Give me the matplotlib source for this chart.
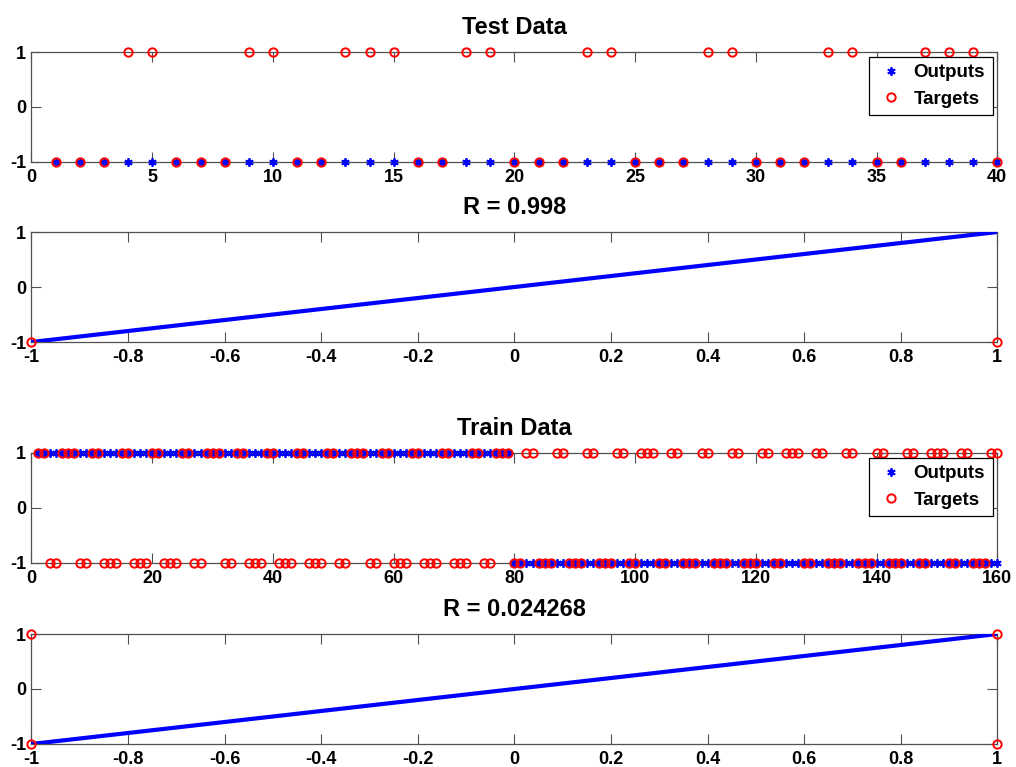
import numpy as np
import matplotlib
matplotlib.use("Agg")
import matplotlib.pyplot as plt
from matplotlib.ticker import FormatStrFormatter, FixedLocator

plt.rcParams["font.family"] = ["Liberation Sans", "DejaVu Sans"]
plt.rcParams["font.weight"] = "bold"

# ---- test data (40 samples) ----
test_idx = np.arange(1, 41)
test_outputs = [-1] * 40
test_pos = [4, 5, 9, 10, 13, 14, 15, 18, 19, 23, 24, 28, 29, 33, 34, 37, 38, 39]
test_targets = [1 if i in test_pos else -1 for i in test_idx]

# ---- train data (160 samples) ----
train_idx = np.arange(1, 161)
train_outputs = [1 if i <= 79 else -1 for i in train_idx]
train_neg_lo = [3, 4, 8, 9, 12, 13, 14, 17, 18, 19, 22, 23, 24, 27, 28, 32, 33,
                36, 37, 38, 41, 42, 43, 46, 47, 48, 51, 52, 56, 57, 60, 61, 62,
                65, 66, 67, 70, 71, 72, 75, 76]
train_pos_hi = [82, 83, 87, 88, 92, 93, 97, 98, 101, 102, 103, 106, 107, 111,
                112, 116, 117, 121, 122, 125, 126, 127, 130, 131, 135, 136, 140,
                141, 145, 146, 149, 150, 151, 154, 155, 159, 160]
train_targets = []
for i in train_idx:
    if i <= 79:
        train_targets.append(-1 if i in train_neg_lo else 1)
    else:
        train_targets.append(1 if i in train_pos_hi else -1)

# ---- regression panels ----
test_reg_x = [-1, 1]
test_reg_y = [-1, -1]
test_fit_x = [-1, 1]
test_fit_y = [-1, 1]
test_R = "R = 0.998"

train_reg_x = [-1, -1, 1, 1]
train_reg_y = [1, -1, 1, -1]
train_fit_x = [-1, 1]
train_fit_y = [-1, 1]
train_R = "R = 0.024268"

AX_COLOR = "#505050"
TICK_FS = 13


def style_axes(ax, xlim, xticks):
    ax.set_xlim(*xlim)
    ax.set_ylim(-1, 1)
    ax.xaxis.set_major_locator(FixedLocator(xticks))
    ax.yaxis.set_major_locator(FixedLocator([-1, 0, 1]))
    ax.xaxis.set_major_formatter(FormatStrFormatter("%g"))
    ax.yaxis.set_major_formatter(FormatStrFormatter("%g"))
    ax.tick_params(direction="in", top=True, right=True, length=7,
                   width=0.8, color=AX_COLOR, labelsize=TICK_FS, pad=4)
    ax.tick_params(axis="x", pad=5)
    for lab in ax.get_xticklabels() + ax.get_yticklabels():
        lab.set_fontweight("bold")
    for sp in ax.spines.values():
        sp.set_color(AX_COLOR)
        sp.set_linewidth(0.9)


def panel_series(ax, x, outputs, targets, title, xmax, xstep):
    ax.plot(x, outputs, linestyle="none", marker=(6, 2, 0), color="blue",
            markersize=6, markeredgewidth=1.3, label="Outputs", clip_on=False,
            zorder=3)
    ax.plot(x, targets, linestyle="none", marker="o", markerfacecolor="none",
            markeredgecolor="red", markersize=6, markeredgewidth=1.4,
            label="Targets", clip_on=False, zorder=4)
    style_axes(ax, (0, xmax), np.arange(0, xmax + 1, xstep))
    ax.set_title(title, fontsize=17, fontweight="bold", pad=13)
    leg = ax.legend(loc="upper right", fontsize=13.5, frameon=True,
                    fancybox=False, framealpha=1, edgecolor="black",
                    borderaxespad=0.25, borderpad=0.4, labelspacing=0.5,
                    handlelength=1.6, handletextpad=0.4)
    leg.get_frame().set_linewidth(0.9)
    for t in leg.get_texts():
        t.set_fontweight("bold")


def panel_reg(ax, rx, ry, fx, fy, title):
    ax.plot(fx, fy, color="blue", linewidth=3.0, zorder=3)
    ax.plot(rx, ry, linestyle="none", marker="o", markerfacecolor="none",
            markeredgecolor="red", markersize=6, markeredgewidth=1.4,
            clip_on=False, zorder=4)
    ticks = np.round(np.linspace(-1, 1, 11), 6) + 0.0
    style_axes(ax, (-1, 1), ticks)
    ax.set_title(title, fontsize=17, fontweight="bold", pad=13)


fig = plt.figure(figsize=(10.16, 7.67), dpi=100)
L, W, H = 0.031, 0.9506, 0.1434
ax1 = fig.add_axes([L, 0.7888, W, H])
ax2 = fig.add_axes([L, 0.5541, W, H])
ax3 = fig.add_axes([L, 0.2660, W, H])
ax4 = fig.add_axes([L, 0.0300, W, H])

panel_series(ax1, test_idx, test_outputs, test_targets, "Test Data", 40, 5)
panel_reg(ax2, test_reg_x, test_reg_y, test_fit_x, test_fit_y, test_R)
panel_series(ax3, train_idx, train_outputs, train_targets, "Train Data", 160, 20)
panel_reg(ax4, train_reg_x, train_reg_y, train_fit_x, train_fit_y, train_R)

fig.savefig("out.png", dpi=100, facecolor="white")
